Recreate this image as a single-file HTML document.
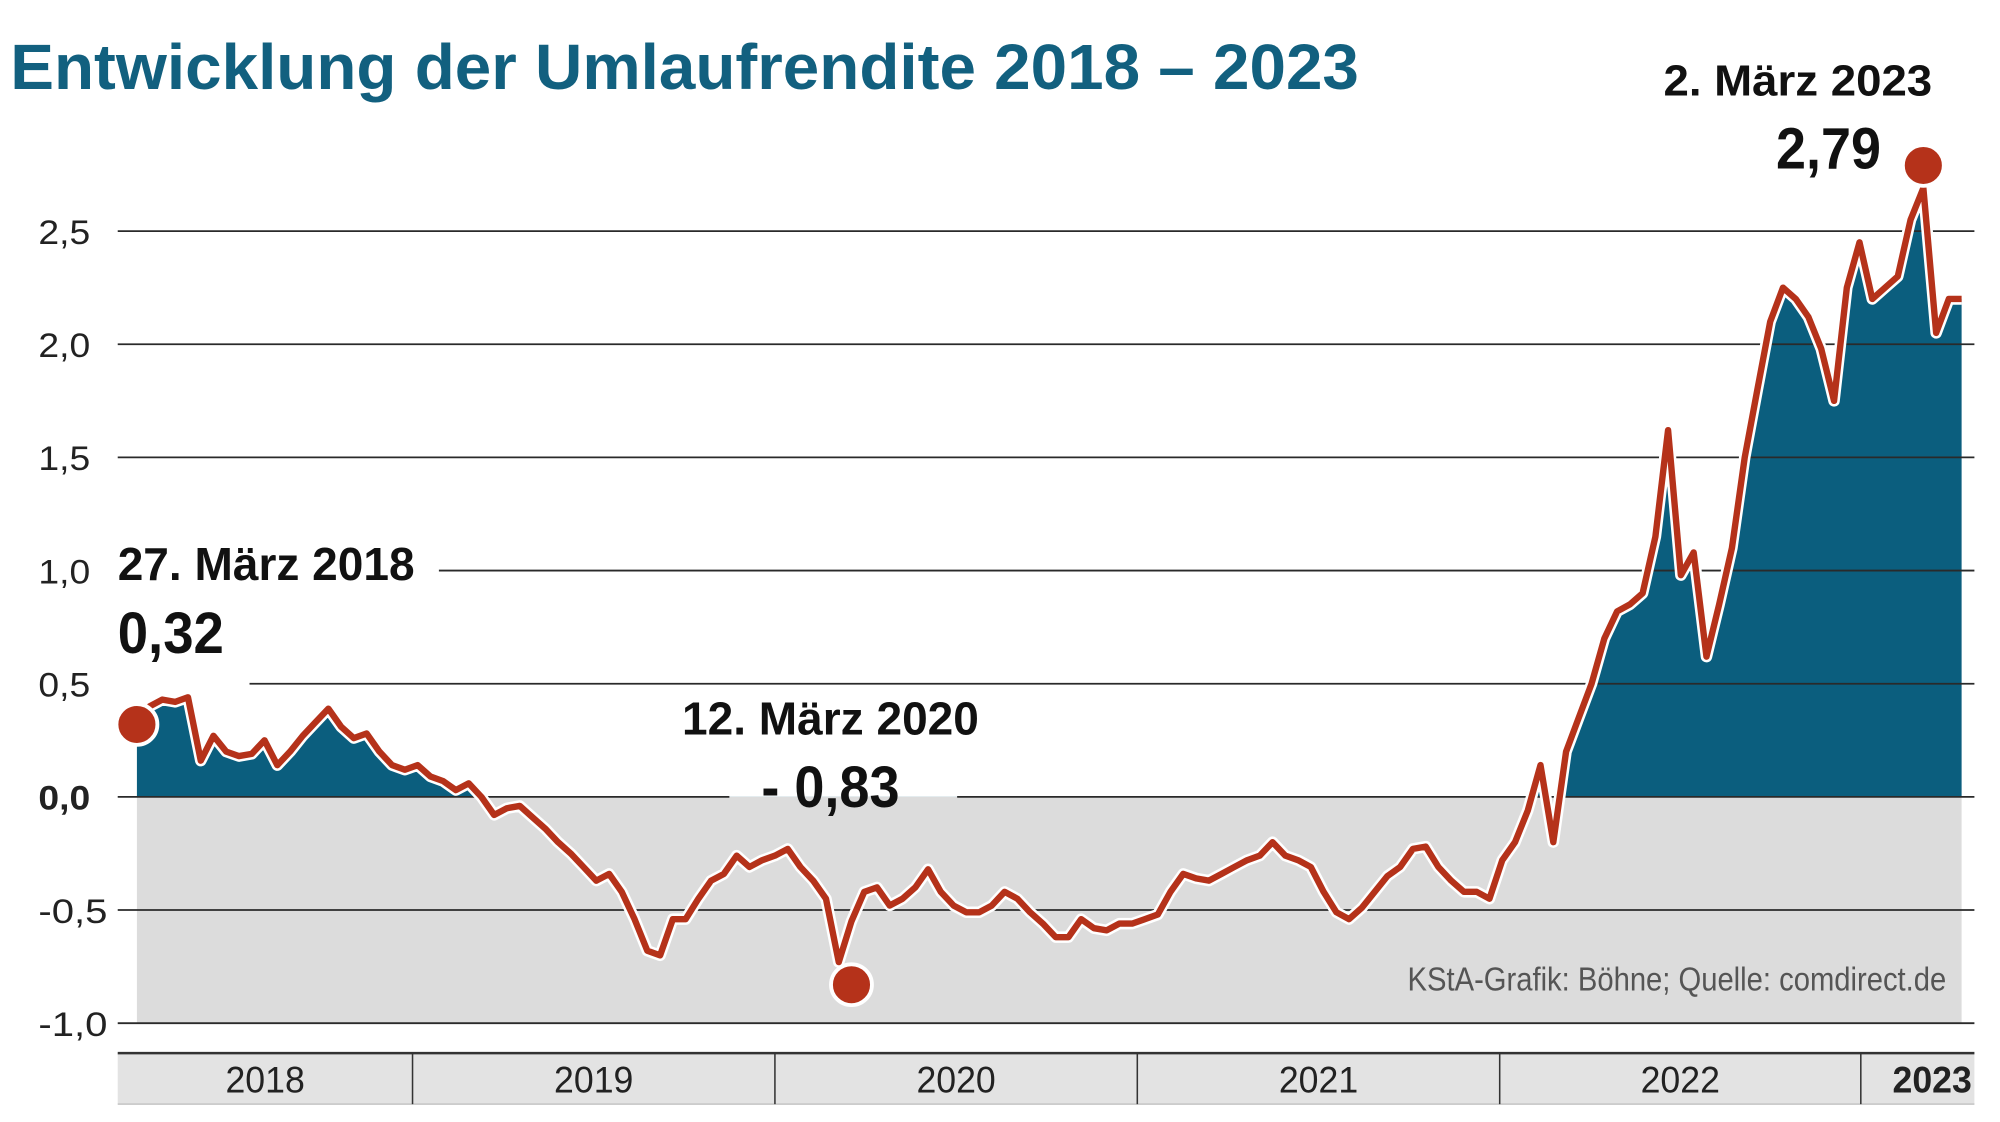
<!DOCTYPE html>
<html><head><meta charset="utf-8"><style>
html,body{margin:0;padding:0;background:#fff;}
svg{display:block;}
text{font-family:"Liberation Sans Narrow","Liberation Sans",sans-serif;}
</style></head><body>
<svg id="chart" width="2000" height="1122" viewBox="0 0 1563 880" preserveAspectRatio="none" xmlns="http://www.w3.org/2000/svg">
<text x="8" y="70" font-size="50" font-weight="bold" fill="#12607f" textLength="1054" lengthAdjust="spacingAndGlyphs">Entwicklung der Umlaufrendite 2018 – 2023</text>
<g id="areas"></g>
<g id="grid"></g>
<g id="line"></g>
<g id="xaxis"></g>
<g id="notes"></g>
</svg>
<script>
const startLabel = "27.03.2018";
const values = [0.32,0.40,0.43,0.42,0.44,0.16,0.27,0.20,0.18,0.19,0.25,0.14,0.20,0.27,0.33,0.39,0.31,0.26,0.28,0.20,
0.14,0.12,0.14,0.09,0.07,0.03,0.06,0.00,-0.08,-0.05,-0.04,-0.09,-0.14,-0.20,-0.25,-0.31,-0.37,-0.34,-0.42,-0.54,
-0.68,-0.70,-0.54,-0.54,-0.45,-0.37,-0.34,-0.26,-0.31,-0.28,-0.26,-0.23,-0.31,-0.37,-0.45,-0.73,-0.55,-0.42,-0.40,-0.48,
-0.45,-0.40,-0.32,-0.42,-0.48,-0.51,-0.51,-0.48,-0.42,-0.45,-0.51,-0.56,-0.62,-0.62,-0.54,-0.58,-0.59,-0.56,-0.56,-0.54,
-0.52,-0.42,-0.34,-0.36,-0.37,-0.34,-0.31,-0.28,-0.26,-0.20,-0.26,-0.28,-0.31,-0.42,-0.51,-0.54,-0.49,-0.42,-0.35,-0.31,
-0.23,-0.22,-0.31,-0.37,-0.42,-0.42,-0.45,-0.28,-0.20,-0.06,0.14,-0.20,0.20,0.35,0.50,0.70,0.82,0.85,0.90,1.15,
1.62,0.98,1.08,0.62,0.85,1.10,1.50,1.80,2.10,2.25,2.20,2.12,1.98,1.75,2.25,2.45,2.20,2.25,2.30,2.55,
2.69,2.05,2.20,2.20];
const yTicks = [2.5,2.0,1.5,1.0,0.5,0.0,-0.5,-1.0];
const yTickLabels = ["2,5","2,0","1,5","1,0","0,5","0,0","-0,5","-1,0"];
const years = ["2018","2019","2020","2021","2022","2023"];
const yearStartIdx = [0,21.6,50.0,78.4,106.8,135.1];
const highlightIdx = [0,56,140];
const highlightVal = [0.32,-0.83,2.79];

const NS="http://www.w3.org/2000/svg";
const X0=107, X1=1533;
const xs = i => X0 + (X1-X0)*i/(values.length-1);
const ys = v => 625 - v*177.5;
function mk(tag, attrs, parent, txt){const e=document.createElementNS(NS,tag);for(const k in attrs)e.setAttribute(k,attrs[k]);if(txt!==undefined)e.textContent=txt;document.getElementById(parent).appendChild(e);return e;}

// areas
const gray = mk('rect',{x:X0,y:ys(0),width:X1-X0,height:ys(-1)-ys(0),fill:'#dcdcdc'},'areas');


let pts = values.map((v,i)=>xs(i).toFixed(1)+','+ys(v).toFixed(1));
const clip = mk('clipPath',{id:'pos'},'areas');
const cr=document.createElementNS(NS,'rect');cr.setAttribute('x',0);cr.setAttribute('y',0);cr.setAttribute('width',1563);cr.setAttribute('height',ys(0));clip.appendChild(cr);
const blue = mk('polygon',{points:X0+','+ys(0)+' '+pts.join(' ')+' '+X1+','+ys(0),fill:'#0b5e7e','clip-path':'url(#pos)'},'areas');



// grid
yTicks.forEach((t,i)=>{
  let x1=92;
  if(t===1.0) x1=343;
  if(t===0.5) x1=195;
  const segs = t===0 ? [[92,570],[748,1543]] : [[x1,1543]];
  segs.forEach(s=>{
    const l=mk('line',{x1:s[0],x2:s[1],y1:ys(t),y2:ys(t),stroke:'#2a2a2a','stroke-width':1.4},'grid');
    
    
  });
  const lbl=yTickLabels[i];
  const tx=mk('text',{x:30,y:ys(t)+10,'font-size':27,fill:'#222','font-weight':t===0?'bold':'normal',textLength:lbl.length*13.5,lengthAdjust:'spacingAndGlyphs'},'grid',lbl);
  
  
});

// line
const outline=mk('polyline',{points:pts.join(' '),fill:'none',stroke:'#fff','stroke-width':9,'stroke-linejoin':'round'},'line');


const ln=mk('polyline',{points:pts.join(' '),fill:'none',stroke:'#b5321a','stroke-width':5,'stroke-linejoin':'round'},'line');



// x axis
const band=mk('rect',{x:92,y:826,width:1451,height:40,fill:'#e3e3e3'},'xaxis');


mk('line',{x1:92,x2:1543,y1:826,y2:826,stroke:'#333','stroke-width':2},'xaxis');
mk('line',{x1:92,x2:1543,y1:866,y2:866,stroke:'#bbb','stroke-width':1},'xaxis');
years.forEach((y,i)=>{
  const sx = xs(yearStartIdx[i]);
  const ex = i<years.length-1 ? xs(yearStartIdx[i+1]) : 1543;
  const left = i===0 ? 92 : sx;
  if(i>0){const d=mk('line',{x1:sx,x2:sx,y1:826,y2:866,stroke:'#333','stroke-width':1.2},'xaxis');
    
    }
  const t=mk('text',{x:i===5?1510:(left+ex)/2,y:857,'font-size':29,'text-anchor':'middle',fill:'#222','font-weight':i===5?'bold':'normal',textLength:62,lengthAdjust:'spacingAndGlyphs'},'xaxis',y);
  
  
});

// highlights
highlightIdx.forEach((idx,i)=>{
  const c=mk('circle',{cx:xs(idx),cy:ys(highlightVal[i]),r:16,fill:'#b5321a',stroke:'#fff','stroke-width':3},'notes');
  
  
});
function lab(x,y,s,anchor,txt,w,name){
  const t=mk('text',{x:x,y:y,'font-size':s,'font-weight':'bold',fill:'#111','text-anchor':anchor,textLength:w,lengthAdjust:'spacingAndGlyphs'},'notes',txt);
  
  
}
lab(92,455,36,'start','27. März 2018',232,'annotation-date-2018');
lab(92,512,46,'start',highlightVal[0].toFixed(2).replace('.',','),83,'annotation-value-2018');
lab(533,576,36,'start','12. März 2020',232,'annotation-date-2020');
lab(595,633,46,'start','- '+Math.abs(highlightVal[1]).toFixed(2).replace('.',','),108,'annotation-value-2020');
lab(1300,75,34,'start','2. März 2023',210,'annotation-date-2023');
lab(1388,132,46,'start',highlightVal[2].toFixed(2).replace('.',','),82,'annotation-value-2023');
const src=mk('text',{x:1100,y:777,'font-size':26,fill:'#555',textLength:421,lengthAdjust:'spacingAndGlyphs'},'notes','KStA-Grafik: Böhne; Quelle: comdirect.de');


</script>
</body></html>
